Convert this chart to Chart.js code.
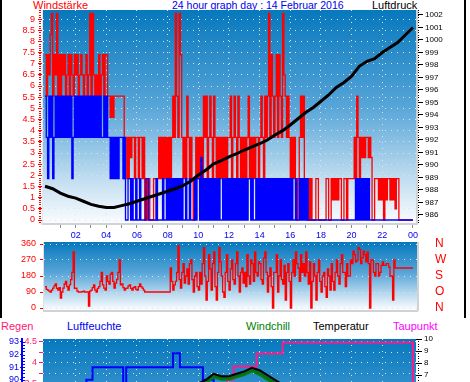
<!DOCTYPE html>
<html><head><meta charset="utf-8">
<script src="https://cdn.jsdelivr.net/npm/chart.js@4.4.1/dist/chart.umd.min.js"></script>
<style>
html,body{margin:0;padding:0;background:#fff;width:470px;height:382px;overflow:hidden;}
body{position:relative;font-family:"Liberation Sans",Arial,sans-serif;}
.t{position:absolute;font-size:11px;line-height:11px;white-space:nowrap;}
canvas{position:absolute;left:0;}
.bar{position:absolute;top:0;width:2px;height:318px;background:#000;}
</style></head><body>
<div class="t" style="left:33px;top:0;color:#ff0000">Windstärke</div>
<div class="t" style="left:172px;top:0;color:#0000ee;font-size:10.5px;line-height:10.5px">24 hour graph day : 14 Februar 2016</div>
<div class="t" style="left:372px;top:0;color:#000">Luftdruck</div>
<div class="t" style="left:1px;top:321px;color:#ff1a75">Regen</div>
<div class="t" style="left:67px;top:321px;color:#0000ee">Luftfeuchte</div>
<div class="t" style="left:246px;top:321px;color:#008000">Windchill</div>
<div class="t" style="left:313px;top:321px;color:#000">Temperatur</div>
<div class="t" style="left:393px;top:321px;color:#ff00ff">Taupunkt</div>
<canvas id="c1" width="470" height="242" style="top:0"></canvas>
<canvas id="c2" width="470" height="92" style="top:228px"></canvas>
<canvas id="c3" width="470" height="228" style="top:318px"></canvas>
<div class="bar" style="left:0"></div>
<div class="bar" style="left:464px"></div>
<script>
// ---------- data ----------
const hourLabels = ['02','04','06','08','10','12','14','16','18','20','22','00'];
const hourTicks = [1,2,3,4,5,6,7,8,9,10,11,12,13,14,15,16,17,18,19,20,21,22,23,24];
const evenHours = [2,4,6,8,10,12,14,16,18,20,22,24];
const dirLabels = ['N','W','S','O','N'];
const dirTicks = [360,270,180,90,0];
// sample times (hours)
const t5  = Array.from({length:289},(_,i)=>i/12);
const t30 = Array.from({length:49},(_,i)=>i/2);

// wind gust (Böen), 5-min samples, one row per hour
const windGust = [
7.4,5.55,7.4,6.5,8.3,9.25,5.55,7.4,6.5,9.25,5.55,7.4,
5.55,7.4,6.5,7.4,5.55,6.5,7.4,5.55,7.4,6.5,5.55,7.4,
6.5,7.4,5.55,6.5,7.4,6.5,5.55,6.5,7.4,5.55,6.5,9.25,
5.55,9.25,6.5,5.55,6.5,5.55,7.4,5.55,6.5,7.4,5.55,7.4,
7.4,5.55,5.55,4.6,5.55,4.6,5.55,5.55,5.55,5.55,5.55,5.55,
5.55,5.55,1.85,1.85,3.7,1.85,3.7,2.8,3.7,3.7,1.85,3.7,
3.7,1.85,3.7,3.7,1.85,3.7,0,1.85,0,1.85,0,0,
0,1.85,1.85,0,1.85,3.7,1.85,3.7,1.85,3.7,1.85,3.7,
1.85,3.7,1.85,3.7,5.55,3.7,9.25,5.55,3.7,9.25,7.4,3.7,
1.85,3.7,1.85,5.55,3.7,1.85,3.7,1.85,0,1.85,3.7,1.85,
3.7,1.85,3.7,1.85,5.55,3.7,5.55,1.85,3.7,5.55,3.7,1.85,
5.55,3.7,1.85,3.7,1.85,3.7,1.85,3.7,1.85,3.7,1.85,3.7,
3.7,5.55,1.85,3.7,5.55,3.7,1.85,5.55,3.7,1.85,3.7,1.85,
3.7,1.85,3.7,5.55,1.85,3.7,1.85,3.7,1.85,3.7,3.7,1.85,
3.7,5.55,3.7,1.85,5.55,3.7,5.55,9.25,3.7,7.4,5.55,3.7,
5.55,7.4,3.7,7.4,5.55,3.7,9.25,6.5,5.55,3.7,5.55,3.7,
1.85,3.7,1.85,3.7,1.85,0,1.85,3.7,5.55,3.7,5.55,1.85,
1.85,0,1.85,0,1.85,0,0,0,1.85,1.85,0,0,
0,0,0,0,1.85,1.85,0,0,1.85,0.9,1.85,0.9,
1.85,0.9,1.85,1.85,0,0,1.85,1.85,0,1.85,1.85,1.85,
1.85,1.85,3.7,1.85,5.55,3.7,1.85,3.7,2.8,3.7,2.8,3.7,
3.7,2.8,3.7,2.8,0,0,1.85,1.85,1.85,0.9,1.85,0.9,
1.85,0,1.85,0.9,1.85,1.85,0.9,1.85,0.9,1.85,0.5,1.85,
1.85,0,0,0,0,0,0,0,0,0,0,0,
0];
// average wind, 5-min samples, one row per hour
const windAvg = [
5.55,3.7,1.85,5.55,3.7,5.55,1.85,3.7,5.55,3.7,5.55,3.7,
5.55,3.7,5.55,3.7,5.55,3.7,5.55,3.7,5.55,1.85,3.7,5.55,
3.7,5.55,3.7,5.55,3.7,5.55,3.7,5.55,3.7,5.55,3.7,5.55,
3.7,5.55,3.7,5.55,3.7,5.55,3.7,5.55,3.7,3.7,5.55,3.7,
5.55,3.7,3.7,1.85,3.7,1.85,3.7,1.85,3.7,1.85,3.7,3.7,
3.7,1.85,3.7,0,0,1.85,1.85,0,1.85,0,0,1.85,
0,0,1.85,0,0,0,0,1.85,1.85,0,0,0,
0,0,0,1.85,0,0,0,0,1.85,0,0,1.85,
0,1.85,0,1.85,0,1.85,0,1.85,0,1.85,0,1.85,
0,0,1.85,0,0,1.85,0,0,0,1.85,0,1.85,
1.85,0,2.8,0,1.85,0,1.85,0,1.85,0,1.85,0,
1.85,0,1.85,0,1.85,0,0,1.85,0,1.85,0,1.85,
0,1.85,0,1.85,0,1.85,0,1.85,0,1.85,0,1.85,
0,1.85,0,1.85,1.85,0,1.85,0,0,1.85,0,1.85,
0,1.85,0,1.85,0,1.85,0,1.85,0,1.85,0,1.85,
0,1.85,0,1.85,0,1.85,0,1.85,0,1.85,0,1.85,
0,1.85,0,0,1.85,0,0,1.85,0,1.85,0,1.85,
0,1.85,0,0,0,0,0,0,0,0,0,0,
0,0,0,0,0,0,0,0,0,0,0,0,
0,0,0,0,0,0,0,0,0,0,0,0,
0,0,0,1.85,0,1.85,0,1.85,0,1.85,0,1.85,
0,1.85,0,0,0,0,0,0,0,0,0,0,
0,0,0,0,0,0,0,0,0,0,0,0,
0,0,0,0,0,0,0,0,0,0,0,0,
0];
// pressure hPa, 30-min
const pressure = [988.3,988.1,987.75,987.5,987.35,987.1,986.85,986.7,986.6,986.6,986.75,986.9,
987.1,987.3,987.5,987.7,987.9,988.1,988.35,988.7,989.2,989.6,990.1,990.35,990.65,990.9,
991.2,991.45,991.7,992.0,992.4,992.75,993.2,993.7,994.2,994.6,995.1,995.6,996.2,996.6,
997.1,997.9,998.3,998.5,999.0,999.4,999.8,1000.4,1001.0];
// wind direction degrees, 5-min samples, one row per hour
const windDir = [
120,105,100,95,90,100,112,125,135,110,100,115,
56,90,112,135,150,120,100,130,160,200,316,110,
112,95,90,90,90,92,95,90,90,90,11,95,
100,115,130,100,90,110,120,150,200,130,112,100,
180,150,135,190,200,150,112,140,160,200,270,130,
135,115,100,110,112,125,130,110,100,115,120,105,
100,120,135,120,112,100,90,90,90,90,90,90,
90,90,90,90,90,90,90,90,90,90,90,90,
90,90,225,150,100,130,150,200,350,160,112,200,
250,140,180,220,135,250,270,160,90,180,200,120,
100,200,135,250,340,180,45,150,300,220,100,250,
315,120,45,200,340,260,180,90,60,200,300,150,
100,220,270,160,135,250,315,180,90,200,225,140,
200,120,300,180,135,270,250,150,315,200,180,260,
250,160,135,280,315,200,90,180,225,120,0,200,
200,300,90,180,270,160,135,240,45,200,250,150,
0,200,270,180,315,250,225,150,300,200,250,180,
315,200,135,260,0,150,250,180,45,200,270,150,
90,180,200,120,60,220,180,100,250,150,100,200,
270,180,135,250,300,200,200,120,250,180,180,270,
250,320,300,260,270,340,330,250,280,320,300,260,
315,250,0,270,270,200,180,250,250,180,200,240,
260,240,240,250,250,230,180,180,45,270,225,225,
225,225,225,225,225,225,225,225,225,225,225,225,
225];
// temperature / windchill °C, 30-min
const temperature = [5.6,5.5,5.4,5.3,5.2,5.1,5.0,4.9,4.9,4.8,4.8,4.8,4.9,5.0,5.1,5.3,5.5,5.7,5.9,6.1,
6.3,6.6,7.1,6.9,6.9,7.1,7.3,7.6,7.4,7.0,6.6,6.2,5.9,5.7,5.5,5.3,5.2,5.1,5.0,4.9,4.9,4.8,4.8,4.7,4.7,4.6,4.6,4.5,4.5];
const windchill = [4.6,4.5,4.4,4.3,4.2,4.1,4.0,3.9,3.9,3.8,3.8,3.8,3.9,4.0,4.1,4.3,4.5,4.7,4.9,5.1,
5.8,6.3,6.8,6.6,6.6,6.8,7.0,7.3,7.0,6.6,6.2,5.7,5.3,5.0,4.8,4.5,4.4,4.3,4.2,4.0,4.0,3.9,3.9,3.8,3.8,3.7,3.7,3.6,3.6];
// dew point steps
const dewTimes = [0, 11.9, 12.3, 13.8, 15.5, 24];
const dewVals  = [5.8, 6.6, 7.7, 8.8, 9.7, 4.0];
// humidity steps
const humTimes = [0, 2.7, 3.1, 5.1, 5.3, 8.35, 8.8, 10.3, 11.0, 24];
const humVals  = [89.2, 90.0, 91.0, 89.5, 91.0, 92.1, 91.0, 90.0, 88.6, 88.6];

// ---------- helpers ----------
const pts = (xs, ys) => xs.map((x,i)=>({x:x, y:ys[i]}));
Chart.defaults.font.family = '"Liberation Sans", Arial, sans-serif';
const DOT = '#dde3ea';

const bgPlugin = {id:'bg', beforeDraw(chart){
  const a = chart.chartArea, ctx = chart.ctx;
  const g = ctx.createLinearGradient(0,a.top,0,a.bottom);
  g.addColorStop(0,'#0678bd'); g.addColorStop(0.45,'#57a5d8');
  g.addColorStop(0.8,'#c4dff1'); g.addColorStop(1,'#fbfdff');
  ctx.save(); ctx.fillStyle = g; ctx.fillRect(a.left,a.top,a.right-a.left,a.bottom-a.top); ctx.restore();
}};
function frame(sides){ return {id:'frame', afterDraw(chart){
  const a = chart.chartArea, ctx = chart.ctx;
  ctx.save(); ctx.strokeStyle='#cfd3d6'; ctx.lineWidth=2; ctx.beginPath();
  if (sides.includes('r')) { ctx.moveTo(a.right+1,a.top); ctx.lineTo(a.right+1,a.bottom+1); }
  if (sides.includes('b')) { ctx.moveTo(a.left,a.bottom+1); ctx.lineTo(a.right+1,a.bottom+1); }
  ctx.stroke(); ctx.restore();
}};}
function minor(specs){ return {id:'minor', afterDraw(chart){
  const ctx = chart.ctx;
  specs.forEach(s=>{
    const sc = chart.scales[s.axis];
    ctx.save(); ctx.strokeStyle = s.color; ctx.lineWidth = 1; ctx.beginPath();
    const n0 = Math.ceil(sc.min/s.step), n1 = Math.floor(sc.max/s.step);
    for (let n=n0; n<=n1; n++){
      const y = Math.round(sc.getPixelForValue(n*s.step))+0.5;
      ctx.moveTo(s.x,y); ctx.lineTo(s.x+s.len,y);
    }
    ctx.stroke(); ctx.restore();
  });
}};}
const base = () => ({responsive:false, animation:false, events:[],
  plugins:{legend:{display:false}, tooltip:{enabled:false}},
  elements:{point:{radius:0}, line:{tension:0}}});
const fmt = v => String(+(+v).toFixed(2));

// ---------- chart 1: wind + pressure ----------
new Chart(document.getElementById('c1'), {
  type:'line',
  data:{datasets:[
    {data:pts(t30,pressure), yAxisID:'yP', borderColor:'#000', borderWidth:3},
    {data:pts(t5,windAvg), yAxisID:'yW', borderColor:'#0000ff', borderWidth:1.3, stepped:true},
    {data:pts(t5,windGust), yAxisID:'yW', borderColor:'#ff0000', borderWidth:1.3, stepped:true}
  ]},
  options:Object.assign(base(), {
    layout:{padding:{top:10,left:0,right:0,bottom:0}},
    scales:{
      x:{type:'linear', min:-0.196, max:24.2,
        afterBuildTicks:s=>{s.ticks = hourTicks.map(v=>({value:v}));},
        afterFit:s=>{s.height=18;},
        ticks:{autoSkip:false, maxRotation:0, padding:2, color:'#0000ee', font:{size:9},
          callback:v=> v%2===0 ? hourLabels[v/2-1] : ''},
        grid:{color:c=> (c.tick && c.tick.value%2===0 && c.tick.value<24) ? DOT : 'rgba(0,0,0,0)',
          tickColor:'#8a8a8a', tickLength:4},
        border:{color:'#cfd3d6', width:2, dash:[1,5]}},
      yW:{type:'linear', position:'left', min:-0.179, max:9.404,
        afterFit:s=>{s.width=42;},
        ticks:{stepSize:0.5, autoSkip:false, includeBounds:false, color:'#ff0000', font:{size:9}, padding:3, callback:fmt},
        grid:{color:DOT, tickColor:'#ff0000', tickLength:4},
        border:{color:'#e4e6e8', width:1, dash:[1,5]}},
      yP:{type:'linear', position:'right', min:985.28, max:1002.4,
        afterFit:s=>{s.width=54;},
        ticks:{stepSize:1, autoSkip:false, includeBounds:false, color:'#000', font:{size:8}, padding:2, callback:v=>String(v)},
        grid:{drawOnChartArea:false, tickColor:'#000', tickLength:7},
        border:{display:false}}
    }
  }),
  plugins:[bgPlugin, frame('r'),
    minor([{axis:'yW', step:0.1, x:39, len:2, color:'#ff0000'},
           {axis:'yP', step:0.2, x:418, len:1, color:'#000'}])]
});

// ---------- chart 2: wind direction ----------
new Chart(document.getElementById('c2'), {
  type:'line',
  data:{datasets:[
    {data:pts(t5,windDir), yAxisID:'yD', borderColor:'#ff0000', borderWidth:1.3, stepped:true}
  ]},
  options:Object.assign(base(), {
    layout:{padding:{top:14,left:0,right:0,bottom:10}},
    scales:{
      x:{type:'linear', min:-0.13, max:24.26, display:false},
      yD:{type:'linear', position:'left', min:-11.25, max:371.25,
        afterFit:s=>{s.width=43;},
        afterBuildTicks:s=>{s.ticks = dirTicks.slice().reverse().map(v=>({value:v}));},
        ticks:{autoSkip:false, color:'#ff0000', font:{size:9}, padding:4},
        grid:{color:DOT, tickColor:'#ff0000', tickLength:3},
        border:{color:'#dfe2e5', width:1, dash:[1,5]}},
      yL:{type:'linear', position:'right', min:-11.25, max:371.25,
        afterFit:s=>{s.width=53;},
        afterBuildTicks:s=>{s.ticks = dirTicks.slice().reverse().map(v=>({value:v}));},
        ticks:{autoSkip:false, color:'#ff0000', font:{size:12}, padding:2,
          callback:v=> dirLabels[dirTicks.indexOf(v)]},
        grid:{drawOnChartArea:false, tickLength:16, tickColor:'rgba(0,0,0,0)'},
        border:{display:false}}
    }
  }),
  plugins:[bgPlugin, frame('rb')]
});

// ---------- chart 3: temperatures / humidity / rain ----------
new Chart(document.getElementById('c3'), {
  type:'line',
  data:{datasets:[
    {data:pts(t30,temperature), yAxisID:'yT', borderColor:'#000', borderWidth:2},
    {data:pts(t30,windchill), yAxisID:'yT', borderColor:'#008000', borderWidth:2,
      fill:{target:0}, backgroundColor:'rgba(10,90,20,0.85)'},
    {data:pts(dewTimes,dewVals), yAxisID:'yT', borderColor:'#ff1a8c', borderWidth:2, stepped:true},
    {data:pts(humTimes,humVals), yAxisID:'yH', borderColor:'#0000ff', borderWidth:2, stepped:true}
  ]},
  options:Object.assign(base(), {
    layout:{padding:{top:21,left:0,right:0,bottom:8}},
    scales:{
      x:{type:'linear', min:-0.13, max:24.2,
        afterBuildTicks:s=>{s.ticks = evenHours.map(v=>({value:v}));},
        afterFit:s=>{s.height=0;},
        ticks:{display:false},
        grid:{color:c=> (c.tick && c.tick.value<24) ? DOT : 'rgba(0,0,0,0)', drawTicks:false},
        border:{display:false, dash:[1,5]}},
      yR:{type:'linear', position:'left', weight:0, min:-0.167, max:4.5714,
        afterFit:s=>{s.width=21;},
        ticks:{stepSize:0.25, autoSkip:false, includeBounds:false, color:'#ff1a75', font:{size:9}, padding:2,
          callback:v=> (Math.abs(v*2-Math.round(v*2))<1e-6) ? fmt(v) : ''},
        grid:{color:DOT, tickColor:'#ff1a75', tickLength:4},
        border:{display:false, dash:[1,5]}},
      yH:{type:'linear', position:'left', weight:1, min:77.444, max:93.238,
        afterFit:s=>{s.width=22;},
        ticks:{stepSize:1, autoSkip:false, includeBounds:false, color:'#0000ee', font:{size:9}, padding:1},
        grid:{drawOnChartArea:false, tickColor:'#0000ff', tickLength:2},
        border:{color:'#0000ff', width:2}},
      yT:{type:'linear', position:'right', min:-6.583, max:10,
        afterFit:s=>{s.width=54;},
        ticks:{stepSize:1, autoSkip:false, includeBounds:false, color:'#000', font:{size:8}, padding:2},
        grid:{drawOnChartArea:false, tickColor:'#000', tickLength:6},
        border:{display:false}}
    }
  }),
  plugins:[bgPlugin,
    minor([{axis:'yH', step:0.25, x:23, len:2, color:'#0000ff'},
           {axis:'yT', step:0.2, x:418, len:1, color:'#000'}])]
});
</script>
</body></html>
